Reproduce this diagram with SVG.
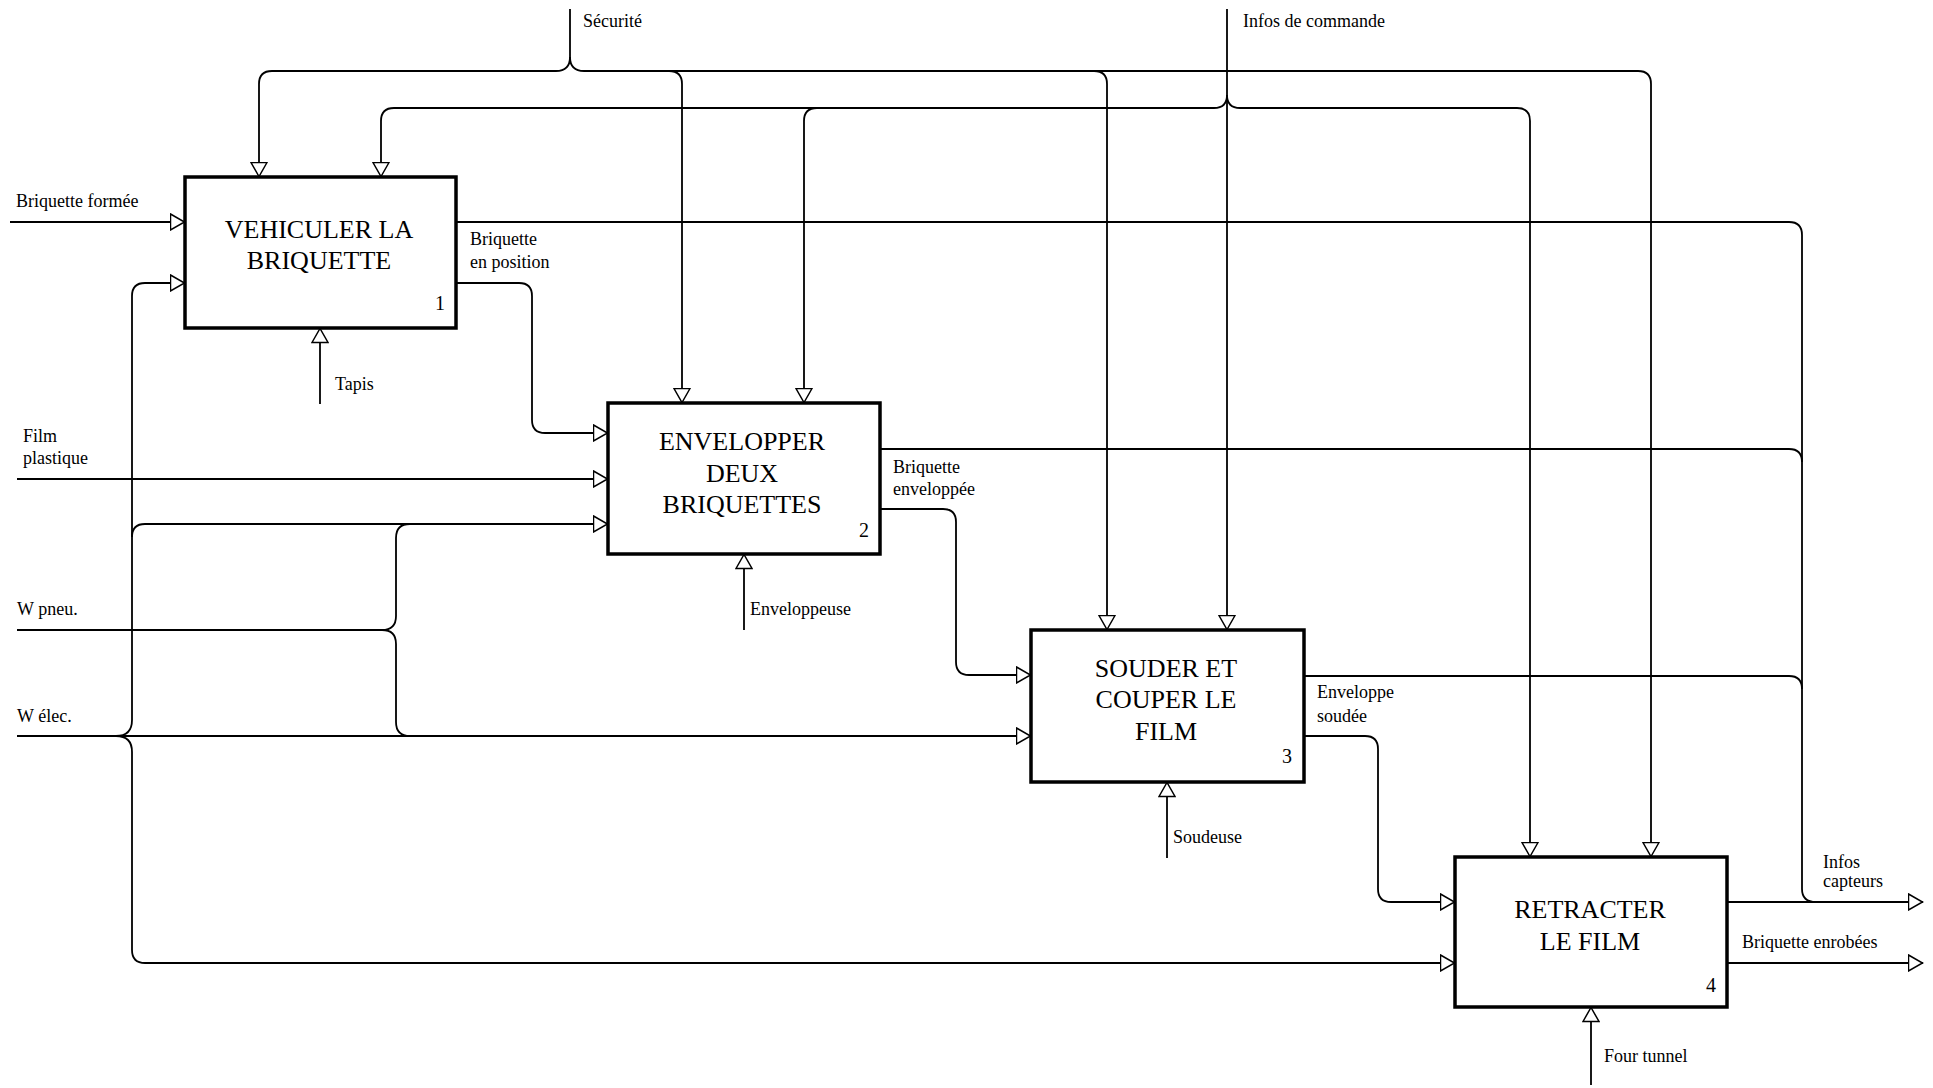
<svg xmlns="http://www.w3.org/2000/svg" width="1933" height="1088" viewBox="0 0 1933 1088">
<style>
.bg{fill:#fff}
.box{fill:#fff;stroke:#000;stroke-width:3.5}
.ln{fill:none;stroke:#000;stroke-width:1.8}
.arr{marker-end:url(#arr)}
.lbl{font-family:"Liberation Serif","Times New Roman",serif;font-size:18px;fill:#000}
.ttl{font-family:"Liberation Serif","Times New Roman",serif;font-size:26px;fill:#000;text-anchor:middle}
.num{font-family:"Liberation Serif","Times New Roman",serif;font-size:20px;fill:#000;text-anchor:end}
</style>
<defs>
<marker id="arr" viewBox="0 0 16 18" refX="15.5" refY="9" markerWidth="16" markerHeight="18" orient="auto" markerUnits="userSpaceOnUse">
<path d="M1,1 L15,9 L1,17 Z" fill="#fff" stroke="#000" stroke-width="1.5"/>
</marker>
</defs>
<rect class="bg" x="0" y="0" width="1933" height="1088"/>
<g id="connectors">
<!-- Sécurité -->
<path class="ln" d="M570,9 V57"/>
<path class="ln arr" d="M570,57 Q570,71 556,71 H272 Q259,71 259,84 V177"/>
<path class="ln arr" d="M570,57 Q570,71 584,71 H1638 Q1651,71 1651,84 V857"/>
<path class="ln arr" d="M669,71 Q682,71 682,84 V403"/>
<path class="ln arr" d="M1094,71 Q1107,71 1107,84 V630"/>
<!-- Infos de commande -->
<path class="ln arr" d="M1227,9 V630"/>
<path class="ln arr" d="M1227,95 Q1227,108 1214,108 H394 Q381,108 381,121 V177"/>
<path class="ln arr" d="M1227,95 Q1227,108 1240,108 H1517 Q1530,108 1530,121 V857"/>
<path class="ln arr" d="M817,108 Q804,108 804,121 V403"/>
<!-- inputs -->
<path class="ln arr" d="M10,222 H185"/>
<path class="ln arr" d="M17,479 H608"/>
<!-- W pneu -->
<path class="ln arr" d="M17,630 H382 Q396,630 396,616 V538 Q396,524 410,524 H608"/>
<path class="ln" d="M382,630 Q396,630 396,644 V722 Q396,736 410,736"/>
<!-- W élec -->
<path class="ln arr" d="M17,736 H1031"/>
<path class="ln arr" d="M116,736 Q132,736 132,720 V296 Q132,283 145,283 H185"/>
<path class="ln" d="M132,537 Q132,524 145,524 H410"/>
<path class="ln arr" d="M116,736 Q132,736 132,752 V950 Q132,963 145,963 H1455"/>
<!-- box 1 outputs -->
<path class="ln" d="M456,222 H1789 Q1802,222 1802,235 V889 Q1802,902 1816,902"/>
<path class="ln arr" d="M456,283 H519 Q532,283 532,296 V420 Q532,433 545,433 H608"/>
<!-- box 2 outputs -->
<path class="ln" d="M880,449 H1789 Q1802,449 1802,462"/>
<path class="ln arr" d="M880,509 H943 Q956,509 956,522 V662 Q956,675 969,675 H1031"/>
<!-- box 3 outputs -->
<path class="ln" d="M1304,676 H1789 Q1802,676 1802,689"/>
<path class="ln arr" d="M1304,736 H1365 Q1378,736 1378,749 V889 Q1378,902 1391,902 H1455"/>
<!-- box 4 outputs -->
<path class="ln arr" d="M1727,902 H1923"/>
<path class="ln arr" d="M1727,963 H1923"/>
<!-- mechanisms -->
<path class="ln arr" d="M320,404 V328"/>
<path class="ln arr" d="M744,630 V554"/>
<path class="ln arr" d="M1167,858 V782"/>
<path class="ln arr" d="M1591,1085 V1007"/>
</g>
<g id="labels">
<text class="lbl" x="583" y="27">Sécurité</text>
<text class="lbl" x="1243" y="27">Infos de commande</text>
<text class="lbl" x="16" y="207">Briquette formée</text>
<text class="lbl" x="470" y="245">Briquette</text>
<text class="lbl" x="470" y="268">en position</text>
<text class="lbl" x="335" y="390">Tapis</text>
<text class="lbl" x="23" y="442">Film</text>
<text class="lbl" x="23" y="464">plastique</text>
<text class="lbl" x="17" y="615">W pneu.</text>
<text class="lbl" x="17" y="722">W élec.</text>
<text class="lbl" x="893" y="473">Briquette</text>
<text class="lbl" x="893" y="495">enveloppée</text>
<text class="lbl" x="750" y="615">Enveloppeuse</text>
<text class="lbl" x="1317" y="698">Enveloppe</text>
<text class="lbl" x="1317" y="722">soudée</text>
<text class="lbl" x="1173" y="843">Soudeuse</text>
<text class="lbl" x="1823" y="868">Infos</text>
<text class="lbl" x="1823" y="887">capteurs</text>
<text class="lbl" x="1742" y="948">Briquette enrobées</text>
<text class="lbl" x="1604" y="1062">Four tunnel</text>
</g>
<g id="node1">
<rect class="box" x="185" y="177" width="271" height="151"/>
<text class="ttl" x="319" y="238">VEHICULER LA</text>
<text class="ttl" x="319" y="269">BRIQUETTE</text>
<text class="num" x="445" y="310">1</text>
</g>
<g id="node2">
<rect class="box" x="608" y="403" width="272" height="151"/>
<text class="ttl" x="742" y="450">ENVELOPPER</text>
<text class="ttl" x="742" y="482">DEUX</text>
<text class="ttl" x="742" y="513">BRIQUETTES</text>
<text class="num" x="869" y="537">2</text>
</g>
<g id="node3">
<rect class="box" x="1031" y="630" width="273" height="152"/>
<text class="ttl" x="1166" y="677">SOUDER ET</text>
<text class="ttl" x="1166" y="708">COUPER LE</text>
<text class="ttl" x="1166" y="740">FILM</text>
<text class="num" x="1292" y="763">3</text>
</g>
<g id="node4">
<rect class="box" x="1455" y="857" width="272" height="150"/>
<text class="ttl" x="1590" y="918">RETRACTER</text>
<text class="ttl" x="1590" y="950">LE FILM</text>
<text class="num" x="1716" y="992">4</text>
</g>
</svg>
